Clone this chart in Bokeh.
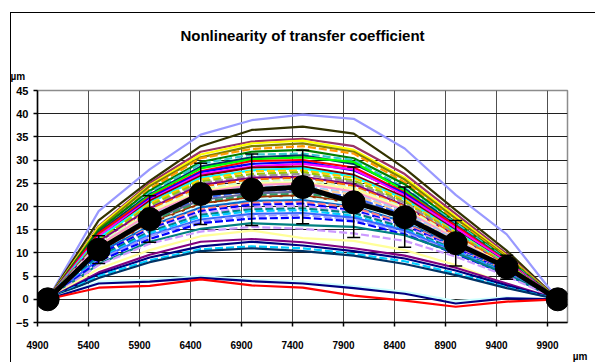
from bokeh.plotting import figure
from bokeh.models import (ColumnDataSource, Whisker, TeeHead, Title,
                          FixedTicker, Range1d)
from bokeh.embed import file_html
from bokeh.resources import INLINE

# ---------------- data ----------------
x_pos = [5000, 5500, 6000, 6500, 7000, 7500, 8000, 8500, 9000, 9500, 10000]
x_ticks = [4900, 5400, 5900, 6400, 6900, 7400, 7900, 8400, 8900, 9400, 9900]
y_ticks = [-5, 0, 5, 10, 15, 20, 25, 30, 35, 40, 45]

mean_values = [0, 10.7, 17.3, 22.7, 23.6, 24.2, 20.9, 17.7, 12.1, 6.9, 0]
mean_errors = [0, 3.0, 5.0, 6.6, 7.7, 7.9, 7.6, 6.5, 4.9, 2.6, 0]

outer_series = [
    [0, 19.0, 28.0, 35.5, 38.6, 39.8, 38.9, 32.5, 22.5, 14.0, 0],
    [0, 17.0, 25.5, 33.0, 36.5, 37.2, 35.7, 28.2, 19.2, 10.5, 0],
]
outer_colors = ["#9999FF", "#333300"]

band_series = [
    [0, 15.8, 25.0, 31.8, 34.0, 34.6, 33.0, 27.0, 18.4, 9.8, 0],
    [0, 15.6, 24.6, 31.2, 33.6, 34.2, 32.2, 26.2, 17.8, 9.4, 0],
    [0, 15.2, 24.4, 30.6, 33.0, 33.6, 31.8, 25.8, 17.4, 9.2, 0],
    [0, 14.6, 23.8, 30.4, 32.4, 33.0, 31.4, 25.2, 17.0, 9.0, 0],
    [0, 14.9, 23.4, 29.6, 31.8, 32.2, 30.4, 24.8, 16.6, 8.8, 0],
    [0, 14.0, 23.0, 29.2, 31.2, 31.4, 30.0, 24.0, 16.4, 8.6, 0],
    [0, 14.4, 22.6, 28.6, 30.6, 31.0, 29.2, 23.8, 16.0, 8.4, 0],
    [0, 13.8, 22.4, 28.2, 30.2, 30.6, 29.6, 23.4, 15.6, 8.3, 0],
    [0, 14.2, 22.0, 27.6, 29.8, 30.0, 28.4, 23.0, 15.8, 8.2, 0],
    [0, 13.4, 21.8, 27.4, 29.2, 29.6, 27.8, 22.8, 15.2, 8.0, 0],
    [0, 13.6, 21.4, 27.0, 28.6, 29.2, 28.0, 22.4, 15.4, 8.1, 0],
    [0, 13.0, 21.2, 26.6, 28.4, 28.6, 26.8, 22.0, 14.8, 7.8, 0],
    [0, 13.2, 20.8, 26.2, 27.8, 28.2, 26.4, 21.6, 14.6, 7.7, 0],
    [0, 12.6, 20.6, 25.8, 27.6, 27.8, 26.2, 21.4, 14.4, 7.6, 0],
    [0, 12.8, 20.2, 25.4, 27.0, 27.4, 25.6, 21.0, 14.2, 7.5, 0],
    [0, 12.2, 19.8, 25.0, 26.6, 27.0, 25.2, 20.8, 14.0, 7.4, 0],
    [0, 12.4, 19.6, 24.6, 26.2, 26.4, 24.8, 20.2, 13.6, 7.2, 0],
    [0, 11.8, 19.4, 24.2, 25.8, 26.2, 24.4, 20.0, 13.8, 7.3, 0],
    [0, 12.0, 19.0, 23.8, 25.4, 25.8, 24.0, 19.8, 13.4, 7.0, 0],
    [0, 11.4, 18.8, 23.4, 25.0, 25.2, 23.8, 19.4, 13.2, 7.1, 0],
    [0, 11.6, 18.4, 23.0, 24.6, 25.0, 23.2, 19.2, 13.0, 6.9, 0],
    [0, 11.0, 18.0, 22.6, 24.2, 24.4, 22.8, 18.8, 12.8, 6.8, 0],
    [0, 11.2, 17.8, 22.2, 23.6, 24.0, 22.6, 18.4, 12.6, 6.7, 0],
    [0, 10.6, 17.4, 21.8, 23.4, 23.6, 22.0, 18.2, 12.4, 6.6, 0],
    [0, 10.8, 17.0, 21.4, 22.8, 23.2, 21.6, 17.8, 12.2, 6.5, 0],
    [0, 10.2, 16.8, 21.0, 22.4, 22.8, 21.4, 17.6, 12.0, 6.4, 0],
    [0, 10.4, 16.4, 20.6, 22.0, 22.4, 20.8, 17.2, 11.8, 6.3, 0],
    [0, 9.8, 16.2, 20.2, 21.6, 22.0, 20.6, 17.0, 11.6, 6.2, 0],
    [0, 10.0, 15.8, 19.8, 21.2, 21.4, 20.0, 16.6, 11.4, 6.1, 0],
    [0, 9.4, 15.6, 19.4, 20.8, 21.0, 19.8, 16.4, 11.2, 6.0, 0],
    [0, 9.6, 15.2, 19.0, 20.4, 20.6, 19.2, 16.0, 11.0, 5.9, 0],
    [0, 9.0, 14.8, 18.6, 19.8, 20.2, 18.8, 15.8, 10.8, 5.8, 0],
    [0, 9.2, 14.6, 18.2, 19.4, 19.6, 18.6, 15.4, 10.6, 5.7, 0],
    [0, 8.8, 14.2, 17.8, 19.0, 19.2, 18.0, 15.0, 10.4, 5.6, 0],
    [0, 8.6, 13.8, 17.2, 18.4, 18.6, 17.6, 14.8, 10.2, 5.5, 0],
    [0, 8.4, 13.6, 16.8, 18.0, 18.2, 17.2, 14.4, 10.0, 5.4, 0],
    [0, 8.2, 13.0, 16.4, 17.4, 17.6, 16.8, 14.0, 9.8, 5.3, 0],
    [0, 7.6, 12.4, 15.2, 16.4, 16.0, 15.6, 13.8, 10.0, 5.4, 0],
    [0, 7.4, 12.0, 14.6, 15.6, 15.2, 14.2, 12.6, 9.2, 5.0, 0],
]
band_colors = [
    "#993366", "#FFFF00", "#808000", "#FF9900", "#008000", "#33CCCC", "#003366",
    "#00FF00", "#FF0000", "#0000FF", "#FF00FF", "#800000", "#00FFFF", "#FFCC00",
    "#99CC00", "#969696", "#800080", "#FF6600", "#CCFFCC", "#FFFF99", "#FF99CC",
    "#99CCFF", "#FFCC99", "#3366FF", "#666699", "#339966", "#993300", "#CCFFFF",
    "#0066CC", "#FF8080", "#0000FF", "#CC99FF", "#008080", "#00CCFF", "#3366FF",
    "#9999FF", "#0000FF", "#008080", "#CC99FF",
]
band_dashed = [
    0, 0, 0, 1, 0, 1, 0,
    0, 0, 0, 0, 0, 0, 1,
    1, 1, 0, 1, 1, 0, 0,
    1, 1, 1, 0, 1, 0, 1,
    0, 1, 1, 1, 1, 1, 0,
    1, 1, 0, 1,
]

low_series = [
    [0, 6.6, 10.6, 13.6, 14.8, 13.2, 12.6, 10.6, 7.4, 3.2, 0],
    [0, 5.8, 9.6, 12.4, 13.0, 12.3, 11.0, 9.4, 6.8, 3.4, 0],
    [0, 5.4, 9.0, 11.4, 12.4, 11.6, 10.4, 8.8, 6.2, 3.0, 0],
    [0, 5.0, 8.4, 10.8, 11.4, 11.0, 9.8, 8.2, 5.6, 2.6, 0],
    [0, 4.6, 8.0, 10.4, 11.0, 10.4, 9.4, 7.6, 5.2, 2.4, 0],
    [0, 3.8, 4.2, 5.0, 4.2, 3.8, 2.8, 1.6, -0.4, 0.4, 0],
    [0, 3.4, 3.8, 4.6, 3.9, 3.4, 2.4, 1.2, -0.9, 0.2, 0],
    [0, 2.5, 2.9, 4.3, 3.0, 2.5, 0.8, -0.3, -1.6, -0.5, 0],
]
low_colors = ["#FFFF99", "#800080", "#000080", "#00CCFF", "#003366",
              "#CCFFFF", "#000080", "#FF0000"]
low_dashed = [0, 0, 0, 1, 0, 0, 0, 0]

TITLE = "Nonlinearity of transfer coefficient"
UNIT = "µm"
FONT = "Liberation Sans"

# ---------------- figure ----------------
p = figure(width=595, height=362, output_backend="svg", toolbar_location=None,
           x_range=Range1d(4900, 10096), y_range=Range1d(-5, 45),
           min_border_left=37, min_border_right=28, min_border_top=90,
           min_border_bottom=40, background_fill_color="white",
           border_fill_color=None)

# outer chart-area frame (runs past the window like the reference)
p.styles = {
    "background-color": "white",
    "background-image": "linear-gradient(#000, #000), linear-gradient(#000, #000)",
    "background-size": "1px 100%, 100% 1px",
    "background-position": "10px 12px, 10px 12px",
    "background-repeat": "no-repeat",
}

p.title.text = TITLE
p.title.align = "center"
p.title.offset = 4
p.title.text_font = FONT
p.title.text_font_style = "bold"
p.title.text_font_size = "15px"
p.title.text_color = "black"
p.title.standoff = 31

p.outline_line_color = "#8c8c8c"
p.outline_line_width = 1.5

p.xaxis.ticker = FixedTicker(ticks=x_ticks)
p.yaxis.ticker = FixedTicker(ticks=y_ticks)
p.xgrid.ticker = FixedTicker(ticks=x_ticks)
p.ygrid.ticker = FixedTicker(ticks=y_ticks)
p.xgrid.grid_line_color = "#505050"
p.ygrid.grid_line_color = "#202020"
p.xgrid.grid_line_width = 1
p.ygrid.grid_line_width = 1

for ax in (p.xaxis, p.yaxis):
    ax.axis_line_color = "black"
    ax.axis_line_width = 1.5
    ax.major_tick_line_color = "black"
    ax.major_tick_line_width = 1.5
    ax.major_tick_out = 4
    ax.major_tick_in = 0
    ax.minor_tick_line_color = None
    ax.major_label_text_font = FONT
    ax.major_label_text_font_style = "bold"
    ax.major_label_text_color = "black"
p.xaxis.major_label_text_font_size = "10px"
p.yaxis.major_label_text_font_size = "11px"
p.xaxis.major_label_standoff = 14
p.yaxis.major_label_standoff = 5

# unit labels as side-panel titles
p.add_layout(Title(text=UNIT, align="left", offset=-27, standoff=18,
                   text_font=FONT, text_font_style="bold", text_font_size="10px",
                   text_color="black"), "above")
p.add_layout(Title(text=UNIT, align="right", offset=-20, standoff=-6,
                   text_font=FONT, text_font_style="bold", text_font_size="10px",
                   text_color="black"), "below")

for vals, c in zip(outer_series, outer_colors):
    p.line(x_pos, vals, line_color=c, line_width=2.2)

for vals, c, d in zip(band_series, band_colors, band_dashed):
    p.line(x_pos, vals, line_color=c, line_width=2.2,
           line_dash="8 3" if d else "solid")

for vals, c, d in zip(low_series, low_colors, low_dashed):
    p.line(x_pos, vals, line_color=c, line_width=2.2,
           line_dash="8 3" if d else "solid")

src = ColumnDataSource(dict(
    x=x_pos, y=mean_values,
    upper=[m + e for m, e in zip(mean_values, mean_errors)],
    lower=[m - e for m, e in zip(mean_values, mean_errors)],
))
p.line("x", "y", source=src, line_color="black", line_width=5)
wh = Whisker(source=src, base="x", upper="upper", lower="lower",
             line_color="black", line_width=1.5, level="overlay",
             upper_head=TeeHead(size=13, line_color="black", line_width=1.5),
             lower_head=TeeHead(size=13, line_color="black", line_width=1.5))
p.add_layout(wh)
p.scatter("x", "y", source=src, size=23, fill_color="black", line_color="black")

open("out.html", "w").write(file_html(p, INLINE))
